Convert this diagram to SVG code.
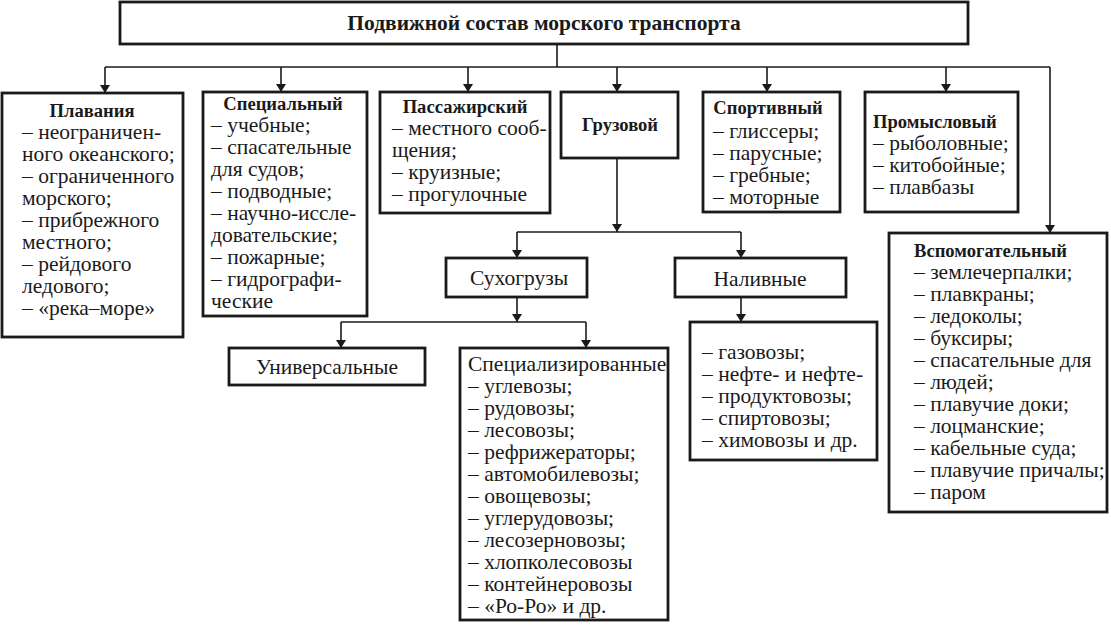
<svg xmlns="http://www.w3.org/2000/svg" width="1111" height="626" viewBox="0 0 1111 626">
<style>
.box{fill:#fff;stroke:#1a1a1a;stroke-width:2.8}
.ln{fill:none;stroke:#1a1a1a;stroke-width:1.6}
text{font-family:"Liberation Serif","Times New Roman",serif;font-size:21.5px;fill:#1a1a1a}
.b{font-weight:bold;font-size:18.6px}
.t{font-weight:bold;font-size:21.5px}
.c{text-anchor:middle}
</style>
<defs>
<marker id="ar" viewBox="0 0 8 16" refX="8" refY="8" markerWidth="8" markerHeight="16" markerUnits="userSpaceOnUse" orient="auto">
<path d="M0,3 L8,8 L0,13 Z" fill="#1a1a1a"/>
</marker>
</defs>
<g id="connectors">
<path class="ln" d="M557,44 V67"/>
<path class="ln" d="M105,67 H1050"/>
<path class="ln" d="M105,67 V93" marker-end="url(#ar)"/>
<path class="ln" d="M281,67 V92" marker-end="url(#ar)"/>
<path class="ln" d="M468,67 V92" marker-end="url(#ar)"/>
<path class="ln" d="M617,67 V92" marker-end="url(#ar)"/>
<path class="ln" d="M767,67 V92" marker-end="url(#ar)"/>
<path class="ln" d="M946,67 V92" marker-end="url(#ar)"/>
<path class="ln" d="M1050,67 V233" marker-end="url(#ar)"/>
<path class="ln" d="M617,158 V232" marker-end="url(#ar)"/>
<path class="ln" d="M517,232 H741"/>
<path class="ln" d="M517,232 V258" marker-end="url(#ar)"/>
<path class="ln" d="M741,232 V258" marker-end="url(#ar)"/>
<path class="ln" d="M517,297 V322" marker-end="url(#ar)"/>
<path class="ln" d="M341,322 H586"/>
<path class="ln" d="M341,322 V348" marker-end="url(#ar)"/>
<path class="ln" d="M586,322 V348" marker-end="url(#ar)"/>
<path class="ln" d="M741,297 V322" marker-end="url(#ar)"/>
</g>
<g id="title">
<rect class="box" x="120" y="2" width="848" height="42"/>
<text class="t c" x="544" y="30">Подвижной состав морского транспорта</text>
</g>
<g id="plavaniya">
<rect class="box" x="2" y="93" width="181" height="244"/>
<text class="b c" x="92" y="117">Плавания</text>
<text x="22" y="139">– неограничен-</text>
<text x="22" y="161">ного океанского;</text>
<text x="22" y="183">– ограниченного</text>
<text x="22" y="205">морского;</text>
<text x="22" y="227">– прибрежного</text>
<text x="22" y="249">местного;</text>
<text x="22" y="271">– рейдового</text>
<text x="22" y="293">ледового;</text>
<text x="22" y="315">– «река–море»</text>
</g>
<g id="specialny">
<rect class="box" x="203" y="92" width="164" height="224"/>
<text class="b c" x="283" y="110">Специальный</text>
<text x="211" y="132">– учебные;</text>
<text x="211" y="154">– спасательные</text>
<text x="211" y="176">для судов;</text>
<text x="211" y="198">– подводные;</text>
<text x="211" y="220">– научно-иссле-</text>
<text x="211" y="242">довательские;</text>
<text x="211" y="264">– пожарные;</text>
<text x="211" y="286">– гидрографи-</text>
<text x="211" y="308">ческие</text>
</g>
<g id="passazhirsky">
<rect class="box" x="380" y="92" width="170" height="121"/>
<text class="b c" x="465" y="113">Пассажирский</text>
<text x="392" y="135">– местного сооб-</text>
<text x="392" y="157">щения;</text>
<text x="392" y="179">– круизные;</text>
<text x="392" y="201">– прогулочные</text>
</g>
<g id="gruzovoy">
<rect class="box" x="561" y="92" width="117" height="66"/>
<text class="b c" x="620" y="131">Грузовой</text>
</g>
<g id="sportivny">
<rect class="box" x="703" y="92" width="137" height="120"/>
<text class="b c" x="768" y="114">Спортивный</text>
<text x="713" y="138">– глиссеры;</text>
<text x="713" y="160">– парусные;</text>
<text x="713" y="182">– гребные;</text>
<text x="713" y="204">– моторные</text>
</g>
<g id="promyslovy">
<rect class="box" x="865" y="92" width="153" height="120"/>
<text class="b" x="873" y="128">Промысловый</text>
<text x="873" y="150">– рыболовные;</text>
<text x="873" y="172">– китобойные;</text>
<text x="873" y="194">– плавбазы</text>
</g>
<g id="vspomogatelny">
<rect class="box" x="889" y="233" width="218" height="279"/>
<text class="b" x="914" y="257">Вспомогательный</text>
<text x="914" y="279">– землечерпалки;</text>
<text x="914" y="301">– плавкраны;</text>
<text x="914" y="323">– ледоколы;</text>
<text x="914" y="345">– буксиры;</text>
<text x="914" y="367">– спасательные для</text>
<text x="914" y="389">– людей;</text>
<text x="914" y="411">– плавучие доки;</text>
<text x="914" y="433">– лоцманские;</text>
<text x="914" y="455">– кабельные суда;</text>
<text x="914" y="477">– плавучие причалы;</text>
<text x="914" y="499">– паром</text>
</g>
<g id="suhogruzy">
<rect class="box" x="446" y="258" width="141" height="39"/>
<text class="c" x="519" y="285">Сухогрузы</text>
</g>
<g id="nalivnye">
<rect class="box" x="675" y="258" width="171" height="39"/>
<text class="c" x="760" y="286">Наливные</text>
</g>
<g id="universalnye">
<rect class="box" x="229" y="348" width="196" height="37"/>
<text class="c" x="327" y="374">Универсальные</text>
</g>
<g id="specializirovannye">
<rect class="box" x="460" y="348" width="208" height="272"/>
<text x="468" y="371">Специализированные</text>
<text x="468" y="393">– углевозы;</text>
<text x="468" y="415">– рудовозы;</text>
<text x="468" y="437">– лесовозы;</text>
<text x="468" y="459">– рефрижераторы;</text>
<text x="468" y="481">– автомобилевозы;</text>
<text x="468" y="503">– овощевозы;</text>
<text x="468" y="525">– углерудовозы;</text>
<text x="468" y="547">– лесозерновозы;</text>
<text x="468" y="569">– хлопколесовозы</text>
<text x="468" y="591">– контейнеровозы</text>
<text x="468" y="613">– «Ро-Ро» и др.</text>
</g>
<g id="nalivnye-list">
<rect class="box" x="690" y="322" width="187" height="138"/>
<text x="702" y="359">– газовозы;</text>
<text x="702" y="381">– нефте- и нефте-</text>
<text x="702" y="403">– продуктовозы;</text>
<text x="702" y="425">– спиртовозы;</text>
<text x="702" y="447">– химовозы и др.</text>
</g>
</svg>
